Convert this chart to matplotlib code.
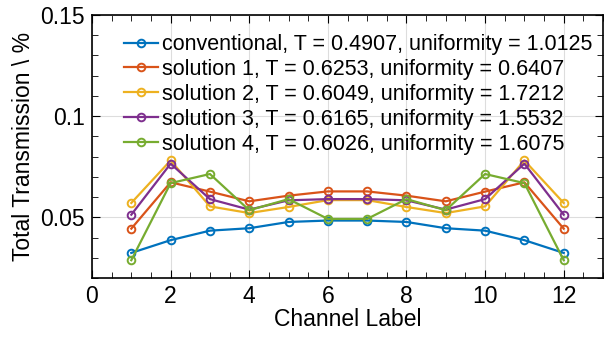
import matplotlib.pyplot as plt
from matplotlib.ticker import MultipleLocator

channels = list(range(1, 13))

conventional = [0.0324, 0.0387, 0.0434, 0.0446, 0.0477, 0.0484,
                0.0484, 0.0477, 0.0446, 0.0434, 0.0387, 0.0324]
solution1 = [0.0444, 0.0673, 0.0627, 0.0579, 0.0607, 0.0628,
             0.0628, 0.0607, 0.0579, 0.0627, 0.0673, 0.0444]
solution2 = [0.0571, 0.0781, 0.0554, 0.0521, 0.0551, 0.0585,
             0.0585, 0.0551, 0.0521, 0.0554, 0.0781, 0.0571]
solution3 = [0.0513, 0.0765, 0.0590, 0.0538, 0.0584, 0.0590,
             0.0590, 0.0584, 0.0538, 0.0590, 0.0765, 0.0513]
solution4 = [0.0288, 0.0669, 0.0714, 0.0535, 0.0590, 0.0492,
             0.0492, 0.0590, 0.0535, 0.0714, 0.0669, 0.0288]

labels = ['conventional, T = 0.4907, uniformity = 1.0125',
          'solution 1, T = 0.6253, uniformity = 0.6407',
          'solution 2, T = 0.6049, uniformity = 1.7212',
          'solution 3, T = 0.6165, uniformity = 1.5532',
          'solution 4, T = 0.6026, uniformity = 1.6075']
colors = ['#0072BD', '#D95319', '#EDB120', '#7E2F8E', '#77AC30']


def main():
    plt.rcParams['font.family'] = ['Liberation Sans', 'DejaVu Sans']
    fig = plt.figure(figsize=(6.11, 3.39), dpi=100)
    ax = fig.add_axes([92 / 611, 1 - 278 / 339, 511 / 611, 263 / 339])

    series = [conventional, solution1, solution2, solution3, solution4]
    for vals, lab, col in zip(series, labels, colors):
        ax.plot(channels, vals, '-o', color=col, label=lab, lw=1.6,
                markersize=5.5, markerfacecolor='none', markeredgewidth=1.4)

    ax.set_xlim(0, 13)
    ax.set_ylim(0.02, 0.15)
    ax.set_xticks([0, 2, 4, 6, 8, 10, 12])
    ax.set_yticks([0.05, 0.1, 0.15])
    ax.set_yticklabels(['0.05', '0.1', '0.15'])
    ax.xaxis.set_minor_locator(MultipleLocator(0.5))
    ax.yaxis.set_minor_locator(MultipleLocator(0.01))
    ax.tick_params(which='both', direction='in', top=True, right=True,
                   labelsize=16.5)
    ax.tick_params(which='major', length=6, pad=5)
    ax.tick_params(which='minor', length=4)
    ax.grid(True, which='major', color='#dddddd', lw=0.8)
    for s in ax.spines.values():
        s.set_linewidth(1.2)

    ax.set_xlabel('Channel Label', fontsize=16.5, labelpad=0)
    ax.set_ylabel('Total Transmission \\ %', fontsize=16.5, labelpad=4)
    ax.legend(loc='upper left', frameon=False, fontsize=15.5,
              handlelength=1.6, handletextpad=0.2, labelspacing=0.18,
              borderaxespad=0.0, bbox_to_anchor=(0.045, 0.96))

    fig.savefig('out.png', dpi=100)


if __name__ == "__main__":
    main()
